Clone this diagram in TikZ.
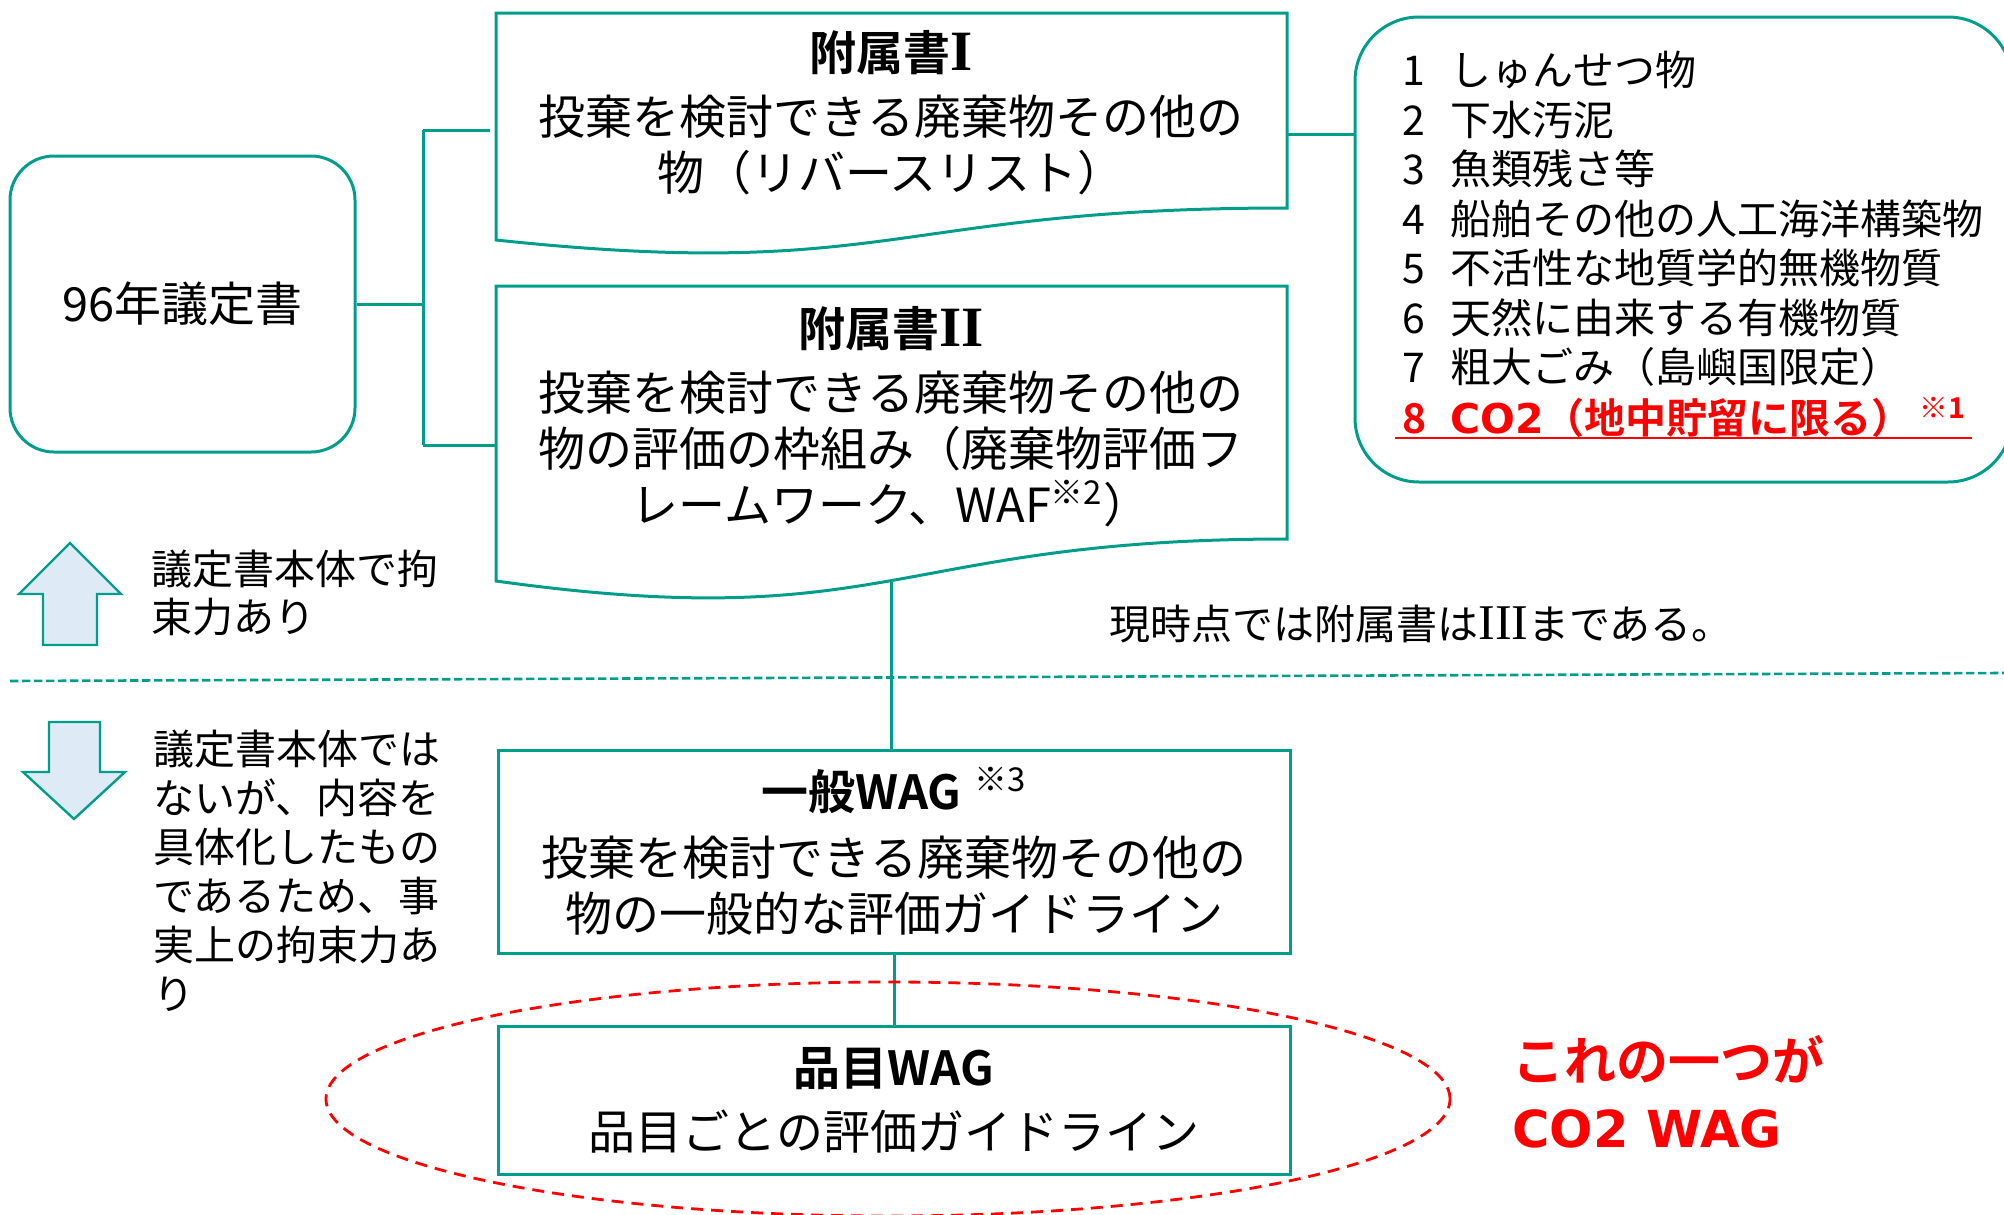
\documentclass[tikz,border=0pt]{standalone}
\usepackage{fontspec}
\setmainfont{Noto Sans CJK JP}[BoldFont={Noto Sans CJK JP Bold}]
\newfontfamily\romserif{Liberation Serif}
\newfontfamily\latsans{DejaVu Sans}
\usetikzlibrary{shapes.geometric}
\definecolor{tealA}{RGB}{0,158,138}
\definecolor{redA}{RGB}{255,0,0}
\definecolor{arrowfill}{RGB}{222,235,247}
\begin{document}
\begin{tikzpicture}[x=0.5pt,y=-0.5pt,
  tl/.style={draw=tealA,line width=1.5pt},
  conn/.style={draw=tealA,line width=1.5pt},
  txt/.style={inner sep=0pt,align=center,font=\fontsize{23.5}{28}\selectfont},
  lefttxt/.style={inner sep=0pt,anchor=west,align=left},
  wagbox/.style={tl,inner sep=0pt,align=center,minimum width=396pt,font=\fontsize{23.5}{28}\selectfont},
  bigarrow/.style={draw=tealA,line width=1.2pt,fill=arrowfill,line join=miter}]
\useasboundingbox (0,0) rectangle (2004,1215);

% 96 protocol box
\node[tl,rounded corners=22pt,minimum width=172.5pt,minimum height=148pt,inner sep=0pt,
      font=\fontsize{23.5}{28}\selectfont] (p96) at (182.5,304) {96年議定書};

% Annex I (document shape)
\coordinate (a1tl) at (496,13);
\coordinate (a1tr) at (1287,13);
\coordinate (a1br) at (1287,208);
\coordinate (a1bl) at (496,240);
\draw[tl] (a1bl) -- (a1tl) -- (a1tr) -- (a1br) .. controls (891,208) and (891,282) .. (a1bl) -- cycle;
\node[txt] (a1txt) at (891,113) {{\bfseries 附属書{\romserif\bfseries\fontsize{28.5}{28}\selectfont I}}\\[4pt]投棄を検討できる廃棄物その他の\\物（リバースリスト）};

% Annex II (document shape)
\coordinate (a2tl) at (496,286);
\coordinate (a2tr) at (1287,286);
\coordinate (a2br) at (1287,539);
\coordinate (a2bl) at (496,581);
\draw[tl] (a2bl) -- (a2tl) -- (a2tr) -- (a2br) .. controls (891,539) and (891,636) .. (a2bl) -- cycle;
\node[txt] (a2txt) at (891,417) {{\bfseries 附属書{\romserif\bfseries\fontsize{28.5}{28}\selectfont II}}\\[4pt]投棄を検討できる廃棄物その他の\\物の評価の枠組み（廃棄物評価フ\\レームワーク、WAF\textsuperscript{※2}）};
\coordinate (a2b) at (891,581);

% bus connectors
\coordinate (busT) at (423,130);
\coordinate (busB) at (423,445);
\coordinate (a1w) at (490,130);
\coordinate (a2w) at (496,445);
\draw[conn] (p96.east) -- (p96.east -| busT);
\draw[conn] (busT) -- (busB);
\draw[conn] (busT) -- (a1w);
\draw[conn] (busB) -- (a2w);

% list box
\node[tl,rounded corners=32pt,minimum width=328.5pt,minimum height=232.5pt,inner sep=0pt] (listbox) at (1683.5,249.5) {};
\coordinate (a1e) at (1287,134);
\draw[conn] (a1e) -- (a1e -| listbox.west);
\node[lefttxt,font=\fontsize{20.5}{24.75}\selectfont] (items) at (1402,219) {%
\makebox[24pt][l]{1}しゅんせつ物\\
\makebox[24pt][l]{2}下水汚泥\\
\makebox[24pt][l]{3}魚類残さ等\\
\makebox[24pt][l]{4}船舶その他の人工海洋構築物\\
\makebox[24pt][l]{5}不活性な地質学的無機物質\\
\makebox[24pt][l]{6}天然に由来する有機物質\\
\makebox[24pt][l]{7}粗大ごみ（島嶼国限定）};
\node[lefttxt,text=redA,font=\fontsize{20.5}{24.75}\selectfont\bfseries] (item8) at (1402,417) {\makebox[24pt][l]{8}{\latsans\bfseries CO2}（地中貯留に限る）\,\textsuperscript{※1}};
\draw[redA,line width=1pt] ([xshift=-3.5pt]item8.south west) -- ([xshift=2.5pt]item8.south east);

% note
\node[lefttxt,font=\fontsize{20.5}{24}\selectfont] (note) at (1109,624) {現時点では附属書は{\romserif\fontsize{25}{24}\selectfont III}まである。};

% dashed divider
\coordinate (dl) at (10,681);
\coordinate (dr) at (2004,673);
\draw[tealA,line width=1.3pt,dash pattern=on 4.2pt off 1.8pt] (dl) -- (dr);

% arrows
\draw[bigarrow] (70,543) -- (121,594) -- (97,594) -- (97,645) -- (43,645) -- (43,594) -- (19,594) -- cycle;
\draw[bigarrow] (49,722) -- (100,722) -- (100,772) -- (125,772) -- (74,819) -- (23,772) -- (49,772) -- cycle;
\node[lefttxt,font=\fontsize{20.5}{24}\selectfont] (uptxt) at (151,593) {議定書本体で拘\\束力あり};
\node[lefttxt,font=\fontsize{20.5}{24.5}\selectfont] (downtxt) at (153,870.5) {議定書本体では\\ないが、内容を\\具体化したもの\\であるため、事\\実上の拘束力あ\\り};

% WAG boxes
\node[wagbox,minimum height=101.5pt] (gwag) at (894,851.5) {{\bfseries 一般WAG}\;\textsuperscript{※3}\\[5pt]投棄を検討できる廃棄物その他の\\物の一般的な評価ガイドライン};
\node[wagbox,minimum height=74pt] (hwag) at (894,1100) {{\bfseries 品目WAG}\\[4pt]品目ごとの評価ガイドライン};
\draw[conn] (a2b) -- (a2b |- gwag.north);
\draw[conn] (gwag.south) -- (hwag.north);

% red dashed ellipse
\node[ellipse,draw=redA,line width=1.4pt,dash pattern=on 6pt off 4pt,minimum width=562pt,minimum height=117pt,inner sep=0pt] (ell) at (888,1099) {};

% red comment
\node[lefttxt,text=redA,font=\fontsize{26}{33.5}\selectfont\bfseries] (co2) at (1512,1091.5) {これの一つが\\{\latsans\bfseries\fontsize{25.5}{33.5}\selectfont CO2 WAG}};
\end{tikzpicture}
\end{document}
